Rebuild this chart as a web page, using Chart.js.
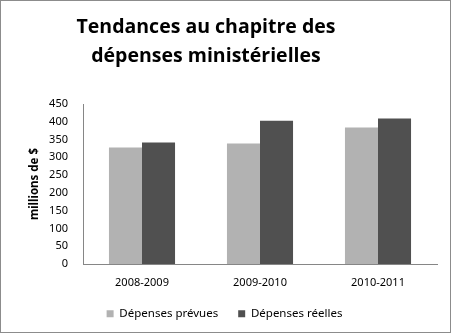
<!DOCTYPE html>
<html>
<head>
<meta charset="utf-8">
<script src="https://cdn.jsdelivr.net/npm/chart.js@4"></script>
<style>
  html, body { margin: 0; padding: 0; background: #fff; }
  #wrap { width: 451px; height: 333px; position: relative; }
</style>
</head>
<body>
<div id="wrap"><canvas id="chart"></canvas></div>
<script>
/* ─── Data ─── */
const years     = ["2008-2009", "2009-2010", "2010-2011"];
const planned   = [328, 339, 384];
const actual    = [342, 403, 409];
const yTicks    = [0, 50, 100, 150, 200, 250, 300, 350, 400, 450];
const titleText = ["Tendances au chapitre des", "dépenses ministérielles"];

/* ─── Title + frame drawn by hand ─── */
const frameTitle = {
  id: "frameTitle",
  afterDraw(chart) {
    const ctx = chart.ctx;
    ctx.save();
    ctx.strokeStyle = "#8c8c8c";
    ctx.lineWidth = 1;
    ctx.strokeRect(0.5, 0.5, chart.width - 1, chart.height - 1);
    ctx.fillStyle = "#000";
    ctx.font = "bold 19.5px 'Open Sans'";
    ctx.textAlign = "center";
    ctx.textBaseline = "middle";
    ctx.fillText(titleText[0], 206, 27);
    ctx.fillText(titleText[1], 206, 56);
    ctx.restore();
  }
};

new Chart(document.getElementById("chart"), {
  type: "bar",
  data: {
    labels: years,
    datasets: [
      { label: "Dépenses prévues", data: planned, backgroundColor: "#b2b2b2" },
      { label: "Dépenses réelles", data: actual,  backgroundColor: "#505050" },
    ],
  },
  options: {
    responsive: true, maintainAspectRatio: false, animation: false,
    layout: { padding: { top: 104, right: 14, bottom: 12, left: 12 } },
    datasets: { bar: { categoryPercentage: 0.56, barPercentage: 1 } },
    plugins: {
      legend: {
        position: "bottom",
        maxHeight: 33,
        labels: { boxWidth: 7, boxHeight: 7, padding: 20, color: "#000",
                  font: { family: "'Noto Sans'", size: 11.5 } },
      },
      tooltip: { enabled: false },
    },
    scales: {
      x: {
        afterFit: s => { s.height = 24; },
        grid: { display: false, drawTicks: false },
        border: { color: "#868686" },
        ticks: { color: "#000", padding: 12, font: { family: "'Noto Sans'", size: 11 } },
      },
      y: {
        min: 0, max: 450,
        afterBuildTicks: s => { s.ticks = yTicks.map(v => ({ value: v })); },
        afterFit: s => { s.width = 71; },
        grid: { display: false, drawTicks: false },
        border: { color: "#868686" },
        ticks: { color: "#000", padding: 15, font: { family: "'Noto Sans'", size: 11 } },
        title: { display: true, text: "millions de $", color: "#000",
                 padding: { top: 16, bottom: 0 },
                 font: { family: "'Noto Sans'", size: 11.5, weight: "bold" } },
      },
    },
  },
  plugins: [frameTitle],
});
</script>
</body>
</html>
